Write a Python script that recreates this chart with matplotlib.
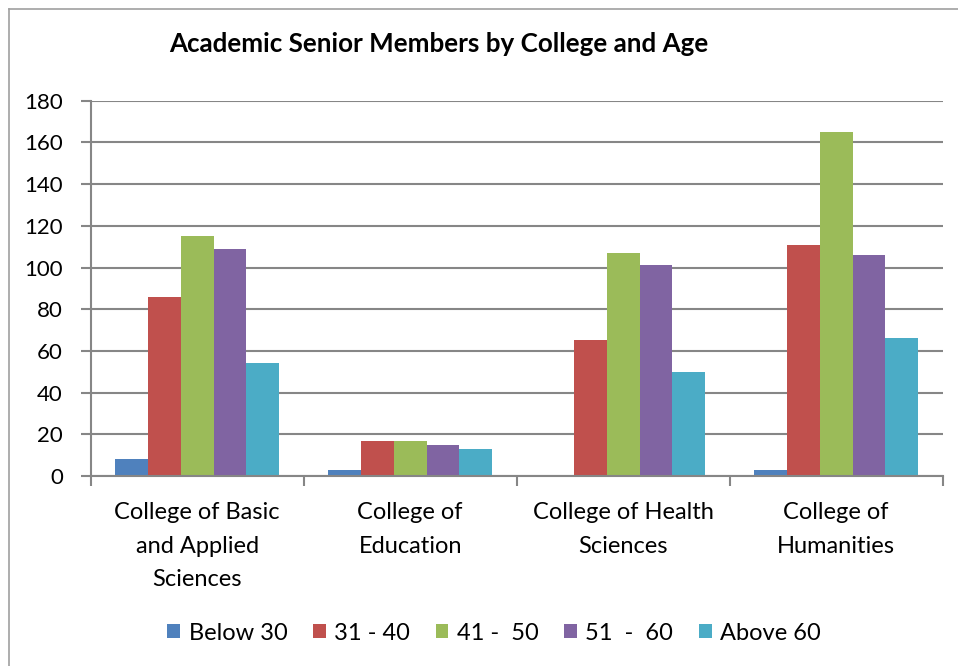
import numpy as np
import matplotlib
matplotlib.use('Agg')
import matplotlib.pyplot as plt
from matplotlib.patches import Patch
from matplotlib.lines import Line2D

plt.rcParams['font.family'] = ['Lato', 'DejaVu Sans']

# Data
colleges = ['College of Basic\nand Applied\nSciences', 'College of\nEducation',
            'College of Health\nSciences', 'College of\nHumanities']
age_groups = ['Below 30', '31 - 40', '41 -  50', '51  -  60', 'Above 60']
below_30 = [8, 3, 0, 3]
age_31_40 = [86, 17, 65, 111]
age_41_50 = [115, 17, 107, 165]
age_51_60 = [109, 15, 101, 106]
above_60 = [54, 13, 50, 66]
series = [below_30, age_31_40, age_41_50, age_51_60, above_60]
colors = ['#4F81BD', '#C0504D', '#9BBB59', '#8064A2', '#4BACC6']

W, H = 958, 666
fig = plt.figure(figsize=(W / 100, H / 100), dpi=100)
ax = fig.add_axes([90.7 / W, 1 - 476 / H, (942.7 - 90.7) / W, (476 - 100.7) / H])

n = len(series)
bw = 1 / (n + 1.5)
x = np.arange(len(colleges))
for i, (vals, c) in enumerate(zip(series, colors)):
    ax.bar(x + (i - (n - 1) / 2) * bw, vals, width=bw, color=c, zorder=3)

grid_c = '#868686'
ax.set_xlim(-0.5, len(colleges) - 0.5)
ax.set_ylim(0, 180)
ax.set_yticks(range(0, 181, 20))
ax.yaxis.grid(True, color=grid_c, linewidth=1.5, zorder=0)
for s in ['top', 'right']:
    ax.spines[s].set_visible(False)
for s in ['left', 'bottom']:
    ax.spines[s].set_color(grid_c)
    ax.spines[s].set_linewidth(1.5)
    ax.spines[s].set_zorder(4)

# category ticks sit at the boundaries, labels at the centres
ax.set_xticks(np.arange(-0.5, len(colleges), 1))
ax.set_xticklabels([])
ax.set_xticks(x, minor=True)
ax.set_xticklabels(colleges, minor=True, fontsize=17, linespacing=1.72)
ax.tick_params(axis='x', which='minor', length=0, pad=19)
ax.tick_params(axis='x', which='major', length=7, width=1.5, color=grid_c)
ax.tick_params(axis='y', length=7, width=1.5, color=grid_c, labelsize=16, pad=13)

fig.text(439 / W, 1 - 44 / H, 'Academic Senior Members by College and Age',
         ha='center', va='center', fontsize=18.7, fontweight='bold')

handles = [Patch(facecolor=c) for c in colors]
fig.legend(handles, age_groups, loc='center', bbox_to_anchor=(494 / W, 1 - 633 / H),
           ncol=5, frameon=False, fontsize=17, handlelength=0.55, handleheight=0.55,
           handletextpad=0.35, columnspacing=1.08)

# chart area border (only left and top edges are inside the picture)
fig.add_artist(Line2D([8.5 / W, 8.5 / W], [0, 1 - 8.5 / H], transform=fig.transFigure,
                      color='#A0A0A0', linewidth=1.2))
fig.add_artist(Line2D([8.5 / W, 1], [1 - 8.5 / H, 1 - 8.5 / H], transform=fig.transFigure,
                      color='#A0A0A0', linewidth=1.2))

fig.savefig('out.png', dpi=100)
